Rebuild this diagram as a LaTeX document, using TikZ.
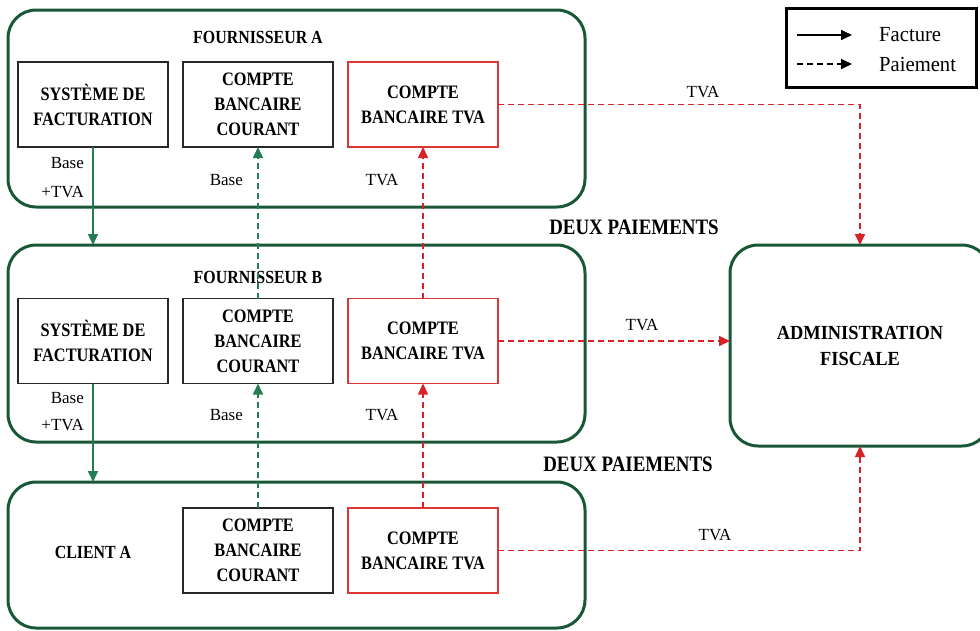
\documentclass[tikz,border=0pt]{standalone}
\usepackage{fontspec}
\setmainfont{Liberation Serif}
\newfontfamily\condf[FakeStretch=0.86]{Liberation Serif}
\newfontfamily\admf[FakeStretch=0.92]{Liberation Serif}
\newfontfamily\legf[FakeStretch=0.96]{Liberation Serif}
\usetikzlibrary{arrows.meta}
\definecolor{dkgreen}{RGB}{25,88,55}
\definecolor{agreen}{RGB}{35,125,80}
\definecolor{vred}{RGB}{215,35,40}
\definecolor{boxred}{RGB}{220,55,55}
\definecolor{boxgray}{RGB}{40,40,40}
\begin{document}
\begin{tikzpicture}[x=1pt,y=-1pt,
  outer/.style={draw=dkgreen, line width=3pt, rounded corners=28pt, minimum width=577pt, inner sep=0pt, outer sep=0pt},
  inbox/.style={draw=boxgray, line width=1.8pt, line join=miter, minimum width=150pt, minimum height=85pt, align=center, inner sep=0pt, outer sep=0pt, font=\condf\fontsize{19}{25}\selectfont\bfseries},
  tvabox/.style={inbox, draw=boxred},
  ttl/.style={font=\condf\fontsize{18.5}{20}\selectfont\bfseries, inner sep=0pt},
  big/.style={font=\condf\fontsize{22}{24}\selectfont\bfseries, inner sep=0pt},
  lbl/.style={font=\fontsize{17}{20}\selectfont, inner sep=0pt},
  leglbl/.style={font=\legf\fontsize{21.5}{24}\selectfont, inner sep=0pt, anchor=west},
  tip/.style={-{Triangle[length=11pt,width=10pt]}},
  fa/.style={tip, draw=agreen, line width=1.6pt},
  pg/.style={tip, draw=agreen, line width=1.6pt, dash pattern=on 6pt off 4pt},
  pr/.style={tip, draw=vred, line width=1.6pt, dash pattern=on 6pt off 4pt},
  legsolid/.style={tip, draw=black, line width=1.6pt},
  legdash/.style={tip, draw=black, line width=1.6pt, dash pattern=on 6pt off 4pt}
]
\clip (0,0) rectangle (980,630);

% outer groups
\node[outer, minimum height=197pt] (fA) at (296.5,108.5) {};
\node[outer, minimum height=197pt] (fB) at (296.5,343.5) {};
\node[outer, minimum height=146pt] (cl) at (296.5,555) {};
\node[draw=dkgreen, line width=3pt, rounded corners=28pt, minimum width=260pt, minimum height=201pt, inner sep=0pt, outer sep=0pt, align=center, font=\admf\fontsize{20}{26}\selectfont\bfseries] (adm) at (860,345.5) {ADMINISTRATION\\FISCALE};

% titles
\node[ttl] (tA) at (258,37) {FOURNISSEUR A};
\node[ttl] (tB) at (258,277) {FOURNISSEUR B};
\node[ttl] (tC) at (93,552) {CLIENT A};

% inner boxes row A
\node[inbox] (sysA) at (93,104.5) {SYSTÈME DE\\FACTURATION};
\node[inbox] (ccA) at (258,104.5) {COMPTE\\BANCAIRE\\COURANT};
\node[tvabox] (tvA) at (423,104.5) {COMPTE\\BANCAIRE TVA};
% row B
\node[inbox] (sysB) at (93,341) {SYSTÈME DE\\FACTURATION};
\node[inbox] (ccB) at (258,341) {COMPTE\\BANCAIRE\\COURANT};
\node[tvabox] (tvB) at (423,341) {COMPTE\\BANCAIRE TVA};
% row C
\node[inbox] (ccC) at (258,550.5) {COMPTE\\BANCAIRE\\COURANT};
\node[tvabox] (tvC) at (423,550.5) {COMPTE\\BANCAIRE TVA};

% connectors
\draw[fa] (sysA.south) -- (sysA.south |- fB.north);
\draw[pg] (ccB.north) -- (ccA.south);
\draw[pr] (tvB.north) -- (tvA.south);
\draw[pr] (tvA.east) -| (adm.north);
\draw[fa] (sysB.south) -- (sysB.south |- cl.north);
\draw[pg] (ccC.north) -- (ccB.south);
\draw[pr] (tvC.north) -- (tvB.south);
\draw[pr] (tvB.east) -- (tvB.east -| adm.west);
\draw[pr] (tvC.east) -| (adm.south);

% labels
\node[lbl, anchor=east] (l1) at (84,163) {Base};
\node[lbl, anchor=east] (l2) at (84,192) {+TVA};
\node[lbl, anchor=east] (l3) at (243,180) {Base};
\node[lbl] (l4) at (382,180) {TVA};
\node[lbl] (l5) at (703,92) {TVA};
\node[lbl, anchor=east] (l6) at (84,398) {Base};
\node[lbl, anchor=east] (l7) at (84,425) {+TVA};
\node[lbl, anchor=east] (l8) at (243,415) {Base};
\node[lbl] (l9) at (382,415) {TVA};
\node[lbl] (l10) at (642,325) {TVA};
\node[lbl] (l11) at (715,535) {TVA};

\node[big] (d1) at (634,227) {DEUX PAIEMENTS};
\node[big] (d2) at (628,464) {DEUX PAIEMENTS};

% legend
\node[draw=black, line width=3pt, minimum width=190pt, minimum height=79pt, inner sep=0pt] (leg) at (881,48) {};
\coordinate (la1) at (797,35);
\coordinate (la2) at (852,35);
\coordinate (lb1) at (797,64);
\coordinate (lb2) at (852,64);
\draw[legsolid] (la1) -- (la2);
\draw[legdash] (lb1) -- (lb2);
\node[leglbl] (lf) at (879,35) {Facture};
\node[leglbl] (lp) at (879,64) {Paiement};
\end{tikzpicture}
\end{document}
